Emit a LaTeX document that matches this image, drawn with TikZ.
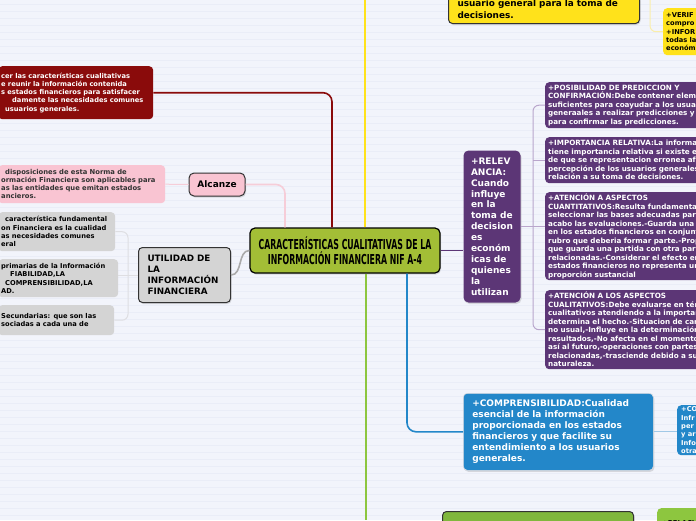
\documentclass[tikz,border=0pt]{standalone}
\usepackage{fontspec}
\setmainfont{DejaVu Sans}
\newfontfamily\narrowfont[FakeStretch=0.57]{DejaVu Sans}
\usetikzlibrary{positioning, shadows}
\definecolor{PaperBg}{RGB}{242,244,251}
\definecolor{PaperLine}{RGB}{234,237,247}
\definecolor{TopicGreen}{RGB}{163,190,54}
\definecolor{DeepRed}{RGB}{138,11,11}
\definecolor{SoftPink}{RGB}{249,196,210}
\definecolor{PalePink}{RGB}{246,205,216}
\definecolor{SoftGrey}{RGB}{212,212,212}
\definecolor{PaleGrey}{RGB}{222,222,226}
\definecolor{SunYellow}{RGB}{255,226,27}
\definecolor{PaleYellow}{RGB}{250,238,170}
\definecolor{PlumPurple}{RGB}{92,54,118}
\definecolor{PalePurple}{RGB}{185,166,204}
\definecolor{OceanBlue}{RGB}{35,135,201}
\definecolor{PaleBlue}{RGB}{160,200,230}
\definecolor{LeafGreen}{RGB}{128,183,61}
\definecolor{LimeGreen}{RGB}{141,198,63}
\definecolor{InkGrey}{RGB}{51,51,51}
\newcommand{\mapsmall}{\fontsize{6.7}{8.3}\selectfont\bfseries}
\newcommand{\mapleaf}{\fontsize{7.2}{8.5}\selectfont\bfseries}
\newcommand{\mapmid}{\fontsize{9}{11}\selectfont\bfseries}

\begin{document}
\begin{tikzpicture}[x=1pt, y=-1pt,
  mapbox/.style={rounded corners=4pt, anchor=north west, align=left, inner xsep=3pt, inner ysep=1.5pt},
  topicbox/.style={rounded corners=5pt, draw=InkGrey, line width=1pt,
    drop shadow={opacity=0.25, shadow xshift=1pt, shadow yshift=-1.5pt}},
  mainlink/.style={line width=1.6pt, rounded corners=9pt},
  sublink/.style={line width=1pt, rounded corners=6pt},
]
\useasboundingbox (0,0) rectangle (696,520);
\clip (0,0) rectangle (696,520);
% paper
\fill[PaperBg] (0,0) rectangle (696,520);
\foreach \yy in {4,11,...,520}
  \draw[PaperLine, line width=0.6pt] (0,\yy) -- (696,\yy);

% central topic
\node[topicbox, draw=black, line width=1.2pt, fill=TopicGreen, minimum width=190pt, minimum height=45pt,
      align=center, font={\narrowfont\fontsize{13.7}{15}\selectfont\bfseries}] (central) at (345,250.5)
  {CARACTERÍSTICAS CUALITATIVAS DE LA\\INFORMACIÓN FINANCIERA NIF A-4};

% left branches
\node[mapbox, fill=DeepRed, text=white, text width=149pt, minimum height=53pt, font=\mapsmall] (goal) at (-2,66)
  {cer las características cualitativas\\e reunir la información contenida\\s estados financieros para satisfacer\\\hspace*{11pt}damente las necesidades comunes\\\hspace*{4pt}usuarios generales.};
\node[mapbox, fill=SoftPink, text=InkGrey, text width=161pt, minimum height=38pt, font={\fontsize{6.8}{8}\selectfont\bfseries}] (scope) at (-2,165)
  {\hspace*{4pt}disposiciones de esta Norma de\\ormación Financiera son aplicables para\\as las entidades que emitan estados\\ancieros.};
\node[topicbox, fill=SoftPink, minimum width=56pt, minimum height=23pt, font={\fontsize{9}{11}\selectfont\bfseries}] (alcanze) at (217,184.5) {Alcanze};

\node[mapbox, fill=SoftGrey, text=black, text width=111pt, minimum height=39pt, font=\mapsmall] (fund) at (-2,212)
  {\hspace*{4pt}característica fundamental\\on Financiera es la cualidad\\as necesidades comunes\\eral};
\node[mapbox, fill=SoftGrey, text=black, text width=114pt, minimum height=38pt, font=\mapsmall] (prim) at (-2,259)
  {primarias de la Información\\\hspace*{9pt}FIABILIDAD,LA\\\hspace*{4pt}COMPRENSIBILIDAD,LA\\AD.};
\node[mapbox, fill=SoftGrey, text=black, text width=110pt, minimum height=30pt, font=\mapsmall] (secu) at (-2,305)
  {Secundarias: que son las\\sociadas a cada una de};
\node[topicbox, mapbox, fill=SoftGrey, inner xsep=9pt, text width=74pt, minimum height=55pt,
      font={\fontsize{8.8}{11}\selectfont\bfseries}] (utilidad) at (138,247)
  {UTILIDAD DE\\LA\\INFORMACIÓN\\FINANCIERA};

% top yellow branch
\node[topicbox, mapbox, anchor=south west, fill=SunYellow, inner xsep=9pt, inner ysep=5pt, text width=173pt,
      font={\fontsize{8.9}{11.5}\selectfont\bfseries}] (usuario) at (448,24)
  {usuario general para la toma de\\decisiones.};
\node[mapbox, fill=SunYellow, text=black, text width=40pt, minimum height=47pt, font=\mapsmall] (verif) at (663,8)
  {+VERIF\\compro\\+INFOR\\todas la\\económ};

% relevancia
\node[topicbox, draw=none, fill=PlumPurple, text=white, minimum width=57pt, minimum height=152pt, align=left,
      anchor=north west, font={\fontsize{9}{10.9}\selectfont\bfseries}] (relev) at (463,150)
  {+RELEV\\ANCIA:\\Cuando\\influye\\en la\\toma de\\decision\\es\\económ\\icas de\\quienes\\la\\utilizan};
\node[mapbox, fill=PlumPurple, text=white, text width=200pt, minimum height=46pt, font=\mapleaf] (predic) at (545,82)
  {+POSIBILIDAD DE PREDICCION Y\\CONFIRMACIÓN:Debe contener eleme\\suficientes para coayudar a los usuar\\generaales a realizar predicciones y s\\para confirmar las predicciones.};
\node[mapbox, fill=PlumPurple, text=white, text width=200pt, minimum height=46pt, font=\mapleaf] (import) at (545,137)
  {+IMPORTANCIA RELATIVA:La informa\\tiene importancia relativa si existe el\\de que se representacion erronea afe\\percepción de los usuarios generales\\relación a su toma de decisiones.};
\node[mapbox, fill=PlumPurple, text=white, text width=200pt, minimum height=88pt, font=\mapleaf] (cuanti) at (545,192)
  {+ATENCIÓN A ASPECTOS\\CUANTITATIVOS:Resulta fundamenta\\seleccionar las bases adecuadas para\\acabo las evaluaciones.-Guarda una p\\en los estados financieros en conjunt\\rubro que deberia formar parte.-Prop\\que guarda una partida con otra parti\\relacionadas.-Considerar el efecto en\\estados financieros no representa una\\proporción sustancial};
\node[mapbox, fill=PlumPurple, text=white, text width=200pt, minimum height=79pt, font=\mapleaf] (cuali) at (545,290)
  {+ATENCIÓN A LOS ASPECTOS\\CUALITATIVOS:Debe evaluarse en tér\\cualitativos atendiendo a la importanc\\determina el hecho.-Situacion de cará\\no usual,-Influye en la determinación\\resultados,-No afecta en el momento\\así al futuro,-operaciones con partes\\relacionadas,-trasciende debido a su\\naturaleza.};

% comprensibilidad
\node[topicbox, mapbox, draw=PaleGrey, line width=0.6pt, fill=OceanBlue, text=white, inner xsep=9pt, text width=172pt,
      minimum height=77pt, font=\mapmid] (compr) at (463,393)
  {+COMPRENSIBILIDAD:Cualidad\\esencial de la información\\proporcionada en los estados\\financieros y que facilite su\\entendimiento a los usuarios\\generales.};
\node[mapbox, fill=OceanBlue, text=white, inner xsep=4pt, text width=40pt, minimum height=50pt, font=\mapsmall] (compar) at (677,405)
  {+CO\\Infr\\per\\y ar\\Info\\otra};

% bottom green branch
\node[topicbox, mapbox, fill=LeafGreen, inner xsep=13pt, inner ysep=7pt, text width=165pt, minimum height=40pt,
      font={\fontsize{9.5}{11.5}\selectfont\bfseries}] (restric) at (442,511) {RESTRICCIONES A LAS};
\node[mapbox, fill=LimeGreen, text=black, inner xsep=5pt, inner ysep=4pt, text width=40pt, minimum height=30pt,
      font=\mapsmall] (relaci) at (657,508) {+RELACI};

% connectors
\coordinate (yellowEnd) at (365,0);
\coordinate (greenEnd) at (366,520);
\coordinate (paleTop) at (650,0);
\draw[mainlink, DeepRed] (goal.east) -| ([xshift=-13pt]central.north);
\draw[mainlink, SunYellow, line width=2pt] ([xshift=20pt]central.north) -- (yellowEnd);
\draw[mainlink, LimeGreen, line width=2pt] ([xshift=21pt]central.south) -- (greenEnd);
\draw[mainlink, OceanBlue] ([xshift=62pt]central.south) |- (compr.west);
\draw[mainlink, PlumPurple] (central.east) -- (central.east -| relev.west);
\draw[mainlink, PalePink] (alcanze.east) -| ([xshift=-60pt]central.north);
\draw[mainlink, SoftGrey!80!black] (utilidad.east) to[out=0, in=180] (central.west);

\draw[sublink, PalePink] (scope.east) -- (alcanze.west);
\draw[sublink, PaleGrey] (fund.east) -| ([xshift=-10pt]utilidad.west) |- (secu.east);
\draw[sublink, PaleGrey] (utilidad.west) -- (utilidad.west -| prim.east);
\draw[sublink, PalePurple] (predic.west) -- ++(-12pt,0) |- (cuali.west);
\draw[sublink, PalePurple] (import.west) -- ++(-12pt,0);
\draw[sublink, PalePurple] (relev.east) -- (relev.east -| cuanti.west);
\draw[sublink, PaleBlue] (compr.east) -- (compr.east -| compar.west);
\draw[sublink, PaleYellow] (paleTop) |- (verif.west);
\end{tikzpicture}
\end{document}
